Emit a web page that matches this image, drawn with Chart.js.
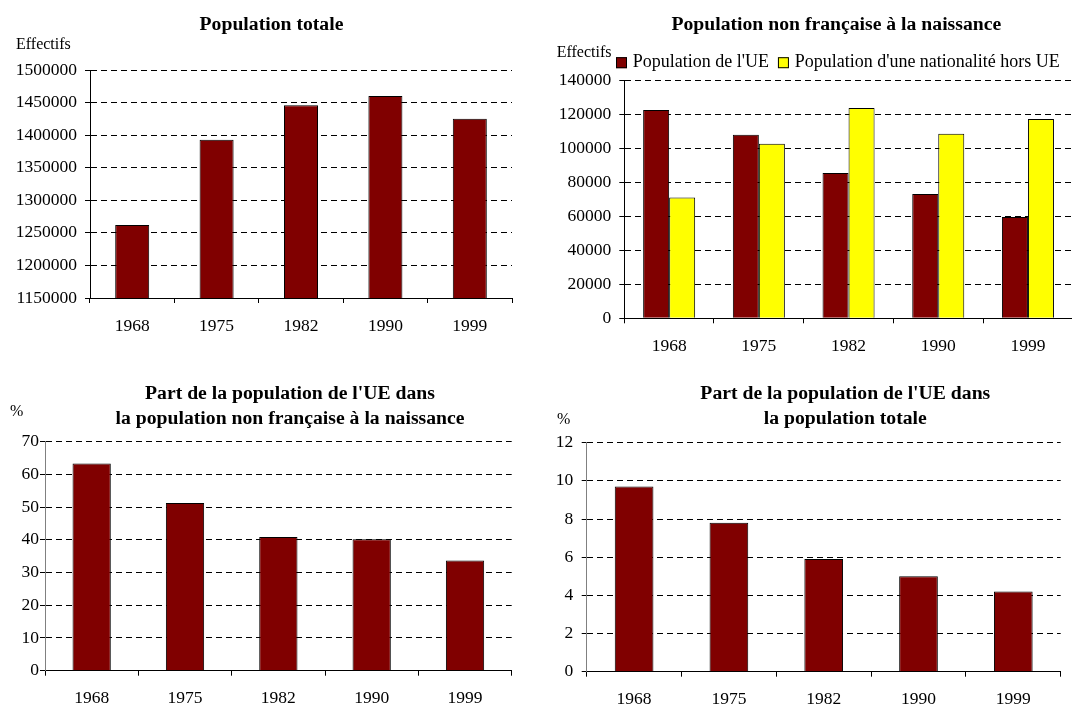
<!DOCTYPE html>
<html>
<head>
<meta charset="utf-8">
<script src="https://cdn.jsdelivr.net/npm/chart.js@4/dist/chart.umd.min.js"></script>
<style>
  html, body { margin: 0; padding: 0; width: 1072px; height: 706px; overflow: hidden; background: #fff; }
  canvas { position: absolute; }
</style>
</head>
<body>
<canvas id="c1" width="540" height="345" style="left:0;top:0"></canvas>
<canvas id="c2" width="535" height="365" style="left:540px;top:0"></canvas>
<canvas id="c3" width="540" height="336" style="left:0;top:370px"></canvas>
<canvas id="c4" width="532" height="336" style="left:540px;top:370px"></canvas>
<script>
// donnees
const years = ['1968', '1975', '1982', '1990', '1999'];
const popTotale = [1262000, 1393000, 1446000, 1460000, 1425000];
const popUE = [122500, 108000, 85500, 73100, 59600];
const popHorsUE = [71000, 102700, 123700, 108600, 117200];
const partUEnonFr = [63.3, 51.3, 40.9, 40.2, 33.7];
const partUEtotale = [9.7, 7.8, 5.9, 5.0, 4.2];

// graduations des axes Y
const ticksTotale = [1150000, 1200000, 1250000, 1300000, 1350000, 1400000, 1450000, 1500000];
const ticksNonFr = [0, 20000, 40000, 60000, 80000, 100000, 120000, 140000];
const ticksPartNonFr = [0, 10, 20, 30, 40, 50, 60, 70];
const ticksPartTotale = [0, 2, 4, 6, 8, 10, 12];

const BORDEAUX = '#800000';
const JAUNE = '#ffff00';
const FAMILLE = '"Liberation Serif", "Times New Roman", serif';

Chart.defaults.font.family = FAMILLE;
Chart.defaults.color = '#000';
Chart.defaults.animation = false;

// titre, unite ("Effectifs" / "%") et legende dessines a la main
const decor = {
  id: 'decor',
  afterDraw(chart, args, o) {
    const ctx = chart.ctx;
    ctx.save();
    ctx.fillStyle = '#000';
    ctx.textBaseline = 'middle';

    ctx.font = 'bold 19.7px ' + FAMILLE;
    ctx.textAlign = 'center';
    o.lines.forEach((line, i) => ctx.fillText(line, o.titleX, o.titleY + i * 25));

    ctx.font = '16px ' + FAMILLE;
    ctx.textAlign = 'left';
    ctx.fillText(o.unit, o.unitX, o.unitY);

    if (o.legendX !== undefined) {
      ctx.font = '18px ' + FAMILLE;
      let x = o.legendX;
      const y = o.legendY;
      chart.data.datasets.forEach(ds => {
        ctx.fillStyle = ds.backgroundColor;
        ctx.fillRect(x, y - 5.5, 11, 11);
        ctx.strokeStyle = '#000';
        ctx.lineWidth = 1;
        ctx.strokeRect(x + 0.5, y - 5, 10, 10);
        ctx.fillStyle = '#000';
        ctx.fillText(ds.label, x + 16.7, y);
        x += 16.7 + ctx.measureText(ds.label).width + 9;
      });
    }
    ctx.restore();
  }
};

function yAxis(ticks, width, pad, borderColor) {
  return {
    min: ticks[0],
    max: ticks[ticks.length - 1],
    afterFit: function (s) { s.width = width; },
    ticks: {
      stepSize: ticks[1] - ticks[0],
      padding: pad,
      color: '#000',
      font: { size: 17.5 },
      callback: v => String(v)
    },
    grid: { color: '#000', tickLength: 5 },
    border: { color: borderColor, dash: [6, 4] }
  };
}

function xAxis(height) {
  return {
    afterFit: function (s) { s.height = height; },
    grid: { offset: true, drawOnChartArea: false, tickLength: 5, color: '#000' },
    border: { color: '#000' },
    ticks: { padding: 12.5, color: '#000', font: { size: 17.5 }, maxRotation: 0, autoSkip: false }
  };
}

function barres(label, data, color, barPct, catPct) {
  return {
    label: label,
    data: data,
    backgroundColor: color,
    borderColor: '#000',
    borderWidth: 1,
    barPercentage: barPct,
    categoryPercentage: catPct
  };
}

// Population totale
new Chart(document.getElementById('c1'), {
  type: 'bar',
  data: { labels: years, datasets: [barres('Population totale', popTotale, BORDEAUX, 0.403, 1)] },
  options: {
    responsive: false,
    layout: { padding: { left: 0, right: 28, top: 70, bottom: 0 } },
    scales: { x: xAxis(47), y: yAxis(ticksTotale, 90, 8, '#000') },
    plugins: {
      legend: { display: false },
      tooltip: { enabled: false },
      decor: { lines: ['Population totale'], titleX: 271.5, titleY: 25, unit: 'Effectifs', unitX: 16, unitY: 45 }
    }
  },
  plugins: [decor]
});

// Population non francaise a la naissance
new Chart(document.getElementById('c2'), {
  type: 'bar',
  data: {
    labels: years,
    datasets: [
      barres("Population de l'UE", popUE, BORDEAUX, 1, 0.58),
      barres("Population d'une nationalité hors UE", popHorsUE, JAUNE, 1, 0.58)
    ]
  },
  options: {
    responsive: false,
    layout: { padding: { left: 0, right: 2.2, top: 80.3, bottom: 0 } },
    scales: { x: xAxis(46.7), y: yAxis(ticksNonFr, 84.3, 8, '#000') },
    plugins: {
      legend: { display: false },
      tooltip: { enabled: false },
      decor: {
        lines: ['Population non française à la naissance'], titleX: 296.3, titleY: 25,
        unit: 'Effectifs', unitX: 16.7, unitY: 53,
        legendX: 76, legendY: 62.7
      }
    }
  },
  plugins: [decor]
});

// Part de l'UE dans la population non francaise
new Chart(document.getElementById('c3'), {
  type: 'bar',
  data: { labels: years, datasets: [barres('Part UE', partUEnonFr, BORDEAUX, 0.41, 1)] },
  options: {
    responsive: false,
    layout: { padding: { left: 0, right: 28.3, top: 71.7, bottom: 0 } },
    scales: { x: xAxis(35.3), y: yAxis(ticksPartNonFr, 45, 1, '#808080') },
    plugins: {
      legend: { display: false },
      tooltip: { enabled: false },
      decor: {
        lines: ["Part de la population de l'UE dans", 'la population non française à la naissance'],
        titleX: 290, titleY: 24, unit: '%', unitX: 10, unitY: 41.7
      }
    }
  },
  plugins: [decor]
});

// Part de l'UE dans la population totale
new Chart(document.getElementById('c4'), {
  type: 'bar',
  data: { labels: years, datasets: [barres('Part UE', partUEtotale, BORDEAUX, 0.408, 1)] },
  options: {
    responsive: false,
    layout: { padding: { left: 0, right: 11.3, top: 72.7, bottom: 0 } },
    scales: { x: xAxis(34.3), y: yAxis(ticksPartTotale, 46.7, 8.4, '#808080') },
    plugins: {
      legend: { display: false },
      tooltip: { enabled: false },
      decor: {
        lines: ["Part de la population de l'UE dans", 'la population totale'],
        titleX: 305.3, titleY: 24, unit: '%', unitX: 17, unitY: 49.3
      }
    }
  },
  plugins: [decor]
});
</script>
</body>
</html>
